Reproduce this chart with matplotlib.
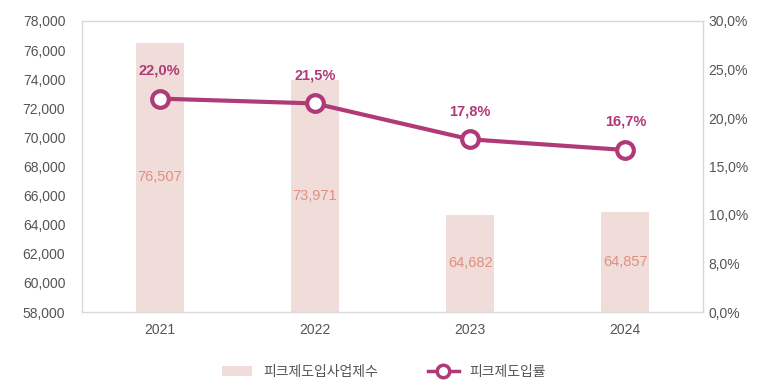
import matplotlib
matplotlib.use("Agg")
import matplotlib.pyplot as plt
from matplotlib.lines import Line2D
from matplotlib.patches import Patch

plt.rcParams['font.family'] = ['Liberation Sans', 'Noto Sans CJK KR', 'DejaVu Sans']

years = ["2021", "2022", "2023", "2024"]
counts = [76507, 73971, 64682, 64857]
rates = [22.0, 21.5, 17.8, 16.7]
left_ticks = list(range(58000, 78001, 2000))
right_tick_labels = ["0,0%", "8,0%", "10,0%", "15,0%", "20,0%", "25,0%", "30,0%"]

BAR_COLOR = "#f0dcd9"
BAR_TEXT = "#e0907f"
LINE_COLOR = "#b03a78"
TICK_COLOR = "#555555"
FRAME_COLOR = "#d9d9d9"

fig = plt.figure(figsize=(7.73, 3.9), dpi=100)
ax = fig.add_axes([82 / 773, 1 - 312 / 390, (703 - 82) / 773, (312 - 21) / 390])
x = list(range(len(years)))

ax.bar(x, [c - 58000 for c in counts], bottom=58000, width=0.31, color=BAR_COLOR, zorder=1)
for xi, c in zip(x, counts):
    ax.text(xi, (c + 58000) / 2, f"{c:,}", ha="center", va="center",
            color=BAR_TEXT, fontsize=10.5, zorder=2)

ax.set_xlim(-0.5, 3.5)
ax.set_ylim(58000, 78000)
ax.set_yticks(left_ticks)
ax.set_yticklabels([f"{t:,}" for t in left_ticks])
ax.set_xticks(x)
ax.set_xticklabels(years)
ax.tick_params(length=0, colors=TICK_COLOR, labelsize=10)
ax.tick_params(axis="y", pad=12)
ax.tick_params(axis="x", pad=8)
for s in ax.spines.values():
    s.set_color(FRAME_COLOR)
    s.set_linewidth(1)

ax2 = ax.twinx()
ax2.set_ylim(0, 30)
ax2.set_yticks(range(0, 31, 5))
ax2.set_yticklabels(right_tick_labels)
ax2.tick_params(length=0, colors=TICK_COLOR, labelsize=10, pad=4)
for s in ax2.spines.values():
    s.set_visible(False)
ax2.plot(x, rates, color=LINE_COLOR, linewidth=3, marker="o", markersize=12,
         markerfacecolor="white", markeredgecolor=LINE_COLOR, markeredgewidth=3, zorder=3)
for xi, r in zip(x, rates):
    ax2.text(xi, r + 2.2, f"{r:.1f}%".replace(".", ","), ha="center", va="bottom",
             color=LINE_COLOR, fontsize=10.5, fontweight="bold")

handles = [Patch(facecolor=BAR_COLOR, edgecolor="none"),
           Line2D([0], [0], color=LINE_COLOR, linewidth=2.5, marker="o", markersize=9,
                  markerfacecolor="white", markeredgecolor=LINE_COLOR, markeredgewidth=2.5)]
fig.legend(handles, ["피크제도입사업제수", "피크제도입률"], loc="center",
           bbox_to_anchor=(384 / 773, 1 - 372 / 390), ncol=2, frameon=False,
           fontsize=10, labelcolor=TICK_COLOR, handlelength=2.2, columnspacing=3.6,
           handletextpad=0.8)

fig.savefig("out.png", dpi=100)
